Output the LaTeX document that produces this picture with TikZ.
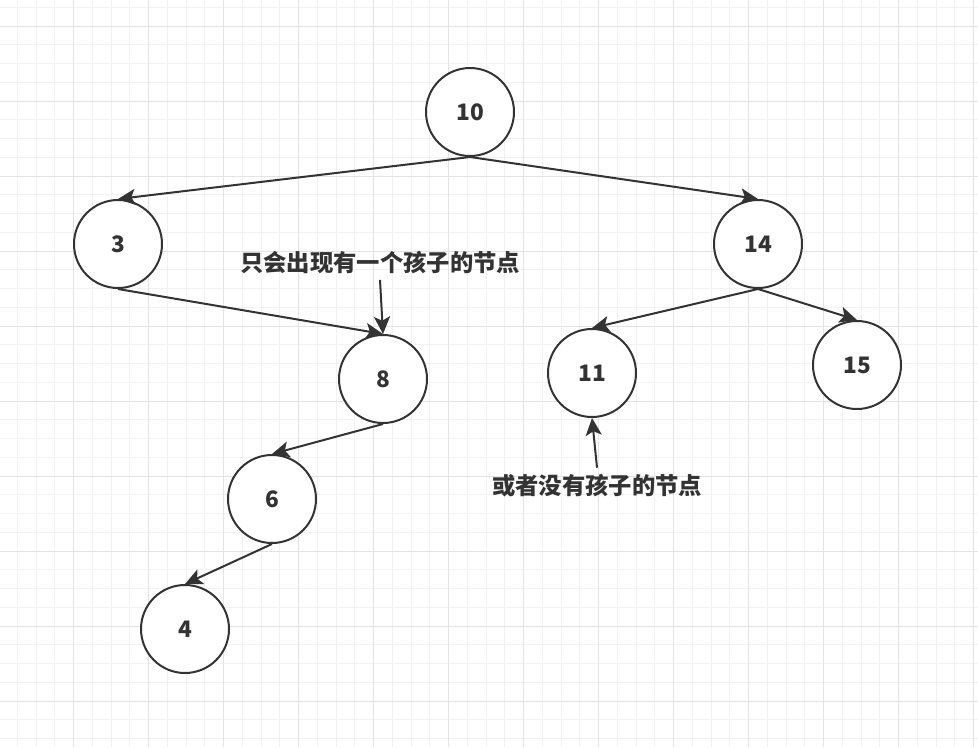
\documentclass[tikz,border=0pt]{standalone}
\usepackage{fontspec}
\usepackage{tikz}
\usetikzlibrary{positioning, arrows.meta}
\newfontfamily\cjk{Noto Sans CJK SC}
\definecolor{ink}{HTML}{333333}
\definecolor{gridminor}{HTML}{F2F2F2}
\definecolor{gridmajor}{HTML}{E3E3E3}
\tikzset{
  treenode/.style={draw=ink, circle, line width=1.5pt, minimum size=66pt, inner sep=0pt, fill=white, text=ink, font=\cjk\bfseries\fontsize{17pt}{20pt}\selectfont},
  note/.style={text=ink, inner sep=1pt, font=\cjk\bfseries\fontsize{17.5pt}{20pt}\selectfont},
  edge/.style={draw=ink, line width=1.5pt, -{Stealth[length=13pt 0, width=12pt 0, inset=3pt, fill=ink]}}
}

\begin{document}
\begin{tikzpicture}[x=0.75pt, y=-0.75pt]
\useasboundingbox (0,0) rectangle (978,747);
% grid
\foreach \i in {0,...,52} {
  \draw[gridminor, line width=0.75pt] ({17.3+18.75*\i},0) -- ({17.3+18.75*\i},747);
}
\foreach \i in {0,...,40} {
  \draw[gridminor, line width=0.75pt] (0,{7.3+18.75*\i}) -- (978,{7.3+18.75*\i});
}
\foreach \i in {0,...,13} {
  \draw[gridmajor, line width=0.75pt] ({73.3+75*\i},0) -- ({73.3+75*\i},747);
}
\foreach \i in {0,...,9} {
  \draw[gridmajor, line width=0.75pt] (0,{26+75*\i}) -- (978,{26+75*\i});
}

\node[treenode] (n10) at (470, 112) {10};
\node[treenode] (n3) at (118, 244) {3};
\node[treenode] (n14) at (758, 244) {14};
\node[treenode] (n8) at (383, 379) {8};
\node[treenode] (n11) at (592, 373) {11};
\node[treenode] (n15) at (857, 365) {15};
\node[treenode] (n6) at (272, 499) {6};
\node[treenode] (n4) at (185, 629) {4};

\node[note] (one) at (380, 263) {只会出现有一个孩子的节点};
\node[note] (none) at (597, 486) {或者没有孩子的节点};

\draw[edge] (n10.south) -- (n3.north);
\draw[edge] (n10.south) -- (n14.north);
\draw[edge] (n3.south) -- (n8.north);
\draw[edge] (n14.south) -- (n11.north);
\draw[edge] (n14.south) -- (n15.north);
\draw[edge] (n8.south) -- (n6.north);
\draw[edge] (n6.south) -- (n4.north);

\draw[edge] ([yshift=-3pt]one.south) -- (n8.north);
\draw[edge] ([yshift=4pt]none.north) -- (n11.south);
\end{tikzpicture}
\end{document}
